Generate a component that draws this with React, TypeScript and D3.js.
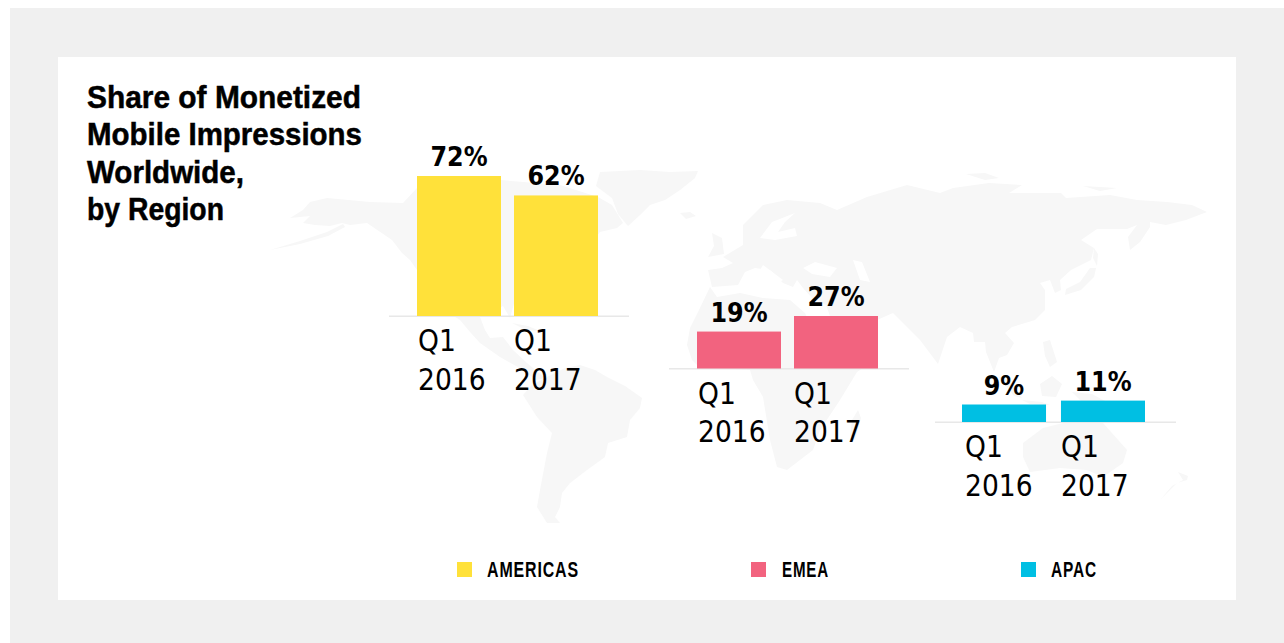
import React from "react";
import * as d3 from "d3";

const titleLines = ["Share of Monetized", "Mobile Impressions", "Worldwide,", "by Region"];
const regions = ["AMERICAS", "EMEA", "APAC"];
const periods = ["Q1 2016", "Q1 2017"];
const americasValues = [72, 62];
const emeaValues = [19, 27];
const apacValues = [9, 11];

// Faint backdrop silhouette (page pixels)
type Ring = [number, number][];
const landRings: Ring[] = [
  // Aleutian sliver
  [[270,250],[300,241],[327,232],[343,224],[345,227],[328,236],[300,244]],
  // North America
  [[290,218],[303,210],[310,202],[327,198],[370,202],[403,203],[417,188],[500,180],[560,185],[598,197],[612,205],[623,223],[617,228],[600,232],[590,245],[570,262],[540,290],[515,300],[510,318],[503,306],[490,314],[480,317],[485,330],[490,338],[503,337],[513,350],[527,363],[545,378],[536,380],[523,370],[500,357],[480,343],[470,332],[460,320],[452,315],[430,290],[417,270],[410,260],[402,253],[392,240],[367,223],[350,225],[342,223],[330,226],[315,225],[303,223],[310,216]],
  // Cuba
  [[512,323],[528,326],[540,331],[526,330]],
  // Greenland and Arctic Canada
  [[600,172],[640,170],[670,172],[698,171],[695,178],[680,190],[665,200],[650,205],[640,215],[628,226],[618,214],[612,198],[596,186]],
  // Iceland
  [[680,213],[690,212],[696,216],[686,219]],
  // South America
  [[523,395],[532,385],[547,377],[565,368],[580,365],[595,370],[607,377],[625,386],[642,398],[640,408],[630,420],[627,437],[608,443],[605,457],[587,470],[570,483],[562,493],[560,507],[555,517],[560,523],[547,523],[537,507],[540,490],[547,453],[552,433],[537,417]],
  // Africa
  [[710,287],[717,297],[740,293],[763,298],[790,300],[805,313],[815,335],[828,352],[845,365],[878,345],[872,362],[857,372],[840,400],[820,430],[813,450],[787,470],[777,467],[770,440],[763,397],[753,380],[750,370],[700,368],[692,360],[687,345],[690,328],[698,312]],
  // Madagascar
  [[858,410],[861,418],[855,440],[850,436],[852,420]],
  // Eurasia
  [[708,270],[722,268],[733,263],[723,257],[743,245],[743,225],[763,205],[787,200],[820,203],[837,210],[867,197],[907,185],[940,193],[953,188],[989,183],[1022,185],[1009,193],[1061,193],[1066,198],[1110,195],[1137,200],[1167,202],[1192,205],[1207,212],[1199,215],[1186,220],[1166,225],[1150,222],[1150,227],[1140,242],[1130,250],[1128,237],[1137,225],[1127,229],[1097,229],[1081,240],[1094,248],[1091,260],[1071,270],[1060,280],[1061,290],[1055,293],[1050,280],[1040,283],[1045,290],[1045,310],[1035,320],[1012,327],[1005,333],[1014,343],[1007,355],[999,358],[994,372],[986,352],[985,342],[974,342],[973,333],[960,327],[947,337],[938,364],[920,340],[893,313],[877,320],[878,340],[850,355],[835,330],[826,305],[812,298],[803,288],[797,280],[793,287],[783,283],[770,270],[755,268],[745,272],[738,285],[712,287]],
  // Great Britain
  [[712,233],[722,238],[724,254],[708,257],[714,246]],
  // Japan
  [[1065,295],[1081,290],[1094,277],[1096,268],[1090,268],[1080,282],[1066,289]],
  // Sakhalin
  [[1094,248],[1098,254],[1097,266],[1093,258]],
  // Arctic islands
  [[966,174],[985,173],[999,178],[985,180]],
  [[1083,186],[1117,188],[1100,191]],
  // Philippines
  [[1043,342],[1050,340],[1057,362],[1050,367],[1045,356]],
  // Sumatra
  [[998,376],[1008,380],[1022,398],[1014,396]],
  // Borneo
  [[1040,384],[1052,376],[1062,384],[1056,397],[1042,396]],
  // Java
  [[1022,400],[1042,402],[1050,405],[1030,404]],
  // New Guinea
  [[1072,392],[1092,394],[1118,408],[1100,406],[1082,402]],
  // Australia
  [[1023,443],[1043,428],[1067,422],[1085,420],[1103,423],[1127,450],[1123,463],[1103,477],[1087,470],[1060,468],[1030,472],[1023,457]],
  // New Zealand
  [[1160,500],[1177,483],[1187,480],[1188,476],[1178,472],[1183,480],[1172,486]],
];
const seaRings: Ring[] = [
  // Black Sea
  [[803,268],[815,262],[837,268],[830,277],[812,274]],
  // Caspian
  [[853,260],[862,262],[870,282],[860,280]],
  // Baltic
  [[760,238],[772,222],[795,213],[785,222],[778,232],[795,228],[797,236],[775,240]],
  // Adriatic / central Mediterranean
  [[763,265],[783,280],[778,283],[760,270]],
];

const regionValues = [americasValues, emeaValues, apacValues];
const fills = ["#ffe13a", "#f2637f", "#00bfe3"];
const baselines = [316, 368.5, 422];
const bandRanges: [number, number][] = [[417, 598], [697, 878], [962, 1145]];
const bandPadding = [0.134, 0.134, 0.151];
const axisExtents: [number, number][] = [[389, 629], [669, 909], [935, 1176]];
const labelStartX = [418, 698, 965];
const LABEL_STEP = 96;
const titleWidths = [274, 275, 157, 137];
const legendSwatchX = [457, 751, 1021];
const legendTextX = [487, 782, 1051];
const legendWidths = [92, 47, 46];

const heightScale = d3.scaleLinear().domain([0, 72]).range([0, 140]);
const ringPath = d3.line();
const FONT = "'DejaVu Sans Condensed', 'DejaVu Sans', sans-serif";
const HEAVY = "'Liberation Sans', Arial, sans-serif";

export default function App() {
  return (
    <svg
      width={1284}
      height={643}
      viewBox="0 0 1284 643"
      style={{ position: "absolute", left: 0, top: 0, display: "block", background: "#fff" }}
    >
      <rect x={10} y={8} width={1274} height={635} fill="#f0f0f0" />
      <rect x={58} y={57} width={1178} height={543} fill="#fff" />

      <g fill="#f7f7f7">
        {landRings.map((r, i) => <path key={i} d={ringPath(r) + "Z"} />)}
      </g>
      <g fill="#fff">
        {seaRings.map((r, i) => <path key={i} d={ringPath(r) + "Z"} />)}
      </g>

      <g fontFamily={HEAVY} fontWeight={700} fontSize={31} fill="#000" stroke="#000" strokeWidth={0.5}>
        {titleLines.map((line, i) => (
          <text key={line} x={87} y={108 + i * 37.4} textLength={titleWidths[i]} lengthAdjust="spacingAndGlyphs">{line}</text>
        ))}
      </g>

      {regions.map((region, g) => {
        const x = d3.scaleBand<string>().domain(periods).range(bandRanges[g]).paddingInner(bandPadding[g]);
        const base = baselines[g];
        return (
          <g key={region}>
            <line x1={axisExtents[g][0]} x2={axisExtents[g][1]} y1={base + 0.3} y2={base + 0.3} stroke="#e8e8e8" strokeWidth={1.5} />
            {periods.map((p, i) => {
              const v = regionValues[g][i];
              const h = heightScale(v);
              const left = x(p)!;
              const [q, year] = p.split(" ");
              const lx = labelStartX[g] + i * LABEL_STEP;
              return (
                <g key={p}>
                  <rect x={left} y={base - h} width={x.bandwidth()} height={h} fill={fills[g]} />
                  <text x={left + x.bandwidth() / 2} y={base - h - 10} textAnchor="middle" fontFamily={FONT} fontWeight={700} fontSize={26.5} fill="#000">{v}%</text>
                  <text x={lx} y={base + 35} fontFamily={FONT} fontSize={29.5} fill="#000">{q}</text>
                  <text x={lx} y={base + 73.5} fontFamily={FONT} fontSize={29.5} fill="#000">{year}</text>
                </g>
              );
            })}
          </g>
        );
      })}

      {regions.map((region, g) => (
        <g key={region}>
          <rect x={legendSwatchX[g]} y={562} width={15} height={15} fill={fills[g]} />
          <text x={legendTextX[g]} y={577} fontFamily={HEAVY} fontWeight={700} fontSize={22} letterSpacing={1.2} fill="#000" textLength={legendWidths[g]} lengthAdjust="spacingAndGlyphs">{region}</text>
        </g>
      ))}
    </svg>
  );
}
